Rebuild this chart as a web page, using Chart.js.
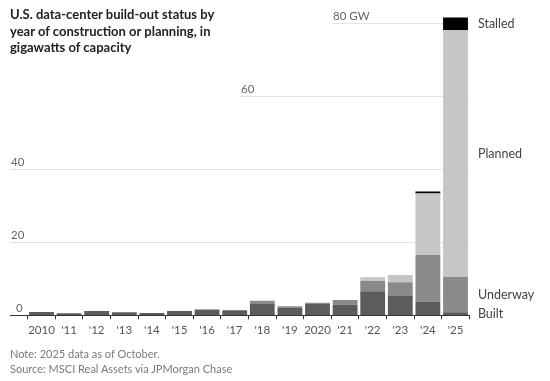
<!DOCTYPE html>
<html>
<head>
<meta charset="utf-8">
<script src="https://cdn.jsdelivr.net/npm/chart.js@4.4.1/dist/chart.umd.min.js"></script>
<style>
  html,body{margin:0;padding:0;background:#fff;}
  #wrap{position:relative;width:550px;height:381px;overflow:hidden;}
  canvas{position:absolute;left:0;top:0;}
  #title{position:absolute;left:10px;top:6px;font-family:Lato,"Noto Sans",sans-serif;font-weight:700;font-size:13px;line-height:16.7px;color:#222;}
  #foot{position:absolute;left:10px;top:347px;font-family:Lato,"Noto Sans",sans-serif;font-size:11px;line-height:14.7px;color:#7a7a7a;}
</style>
</head>
<body>
<div id="wrap">
  <canvas id="c" width="550" height="381"></canvas>
  <div id="title">U.S. data-center build-out status by<br>year of construction or planning, in<br>gigawatts of capacity</div>
  <div id="foot">Note: 2025 data as of October.<br>Source: MSCI Real Assets via JPMorgan Chase</div>
</div>
<script>
const years = ["2010","'11","'12","'13","'14","'15","'16","'17","'18","'19","2020","'21","'22","'23","'24","'25"];
const built    = [0.9, 0.55, 1.2, 0.8, 0.6, 1.2, 1.6, 1.4, 3.1, 2.1, 3.2, 2.9, 6.6, 5.3, 3.8, 0.8];
const underway = [0, 0, 0, 0, 0, 0, 0, 0, 0.9, 0.4, 0.2, 1.3, 2.8, 3.7, 12.7, 9.7];
const planned  = [0, 0, 0, 0, 0, 0, 0, 0, 0, 0, 0, 0, 1.0, 2.0, 16.8, 67.4];
const stalled  = [0, 0, 0, 0, 0, 0, 0, 0, 0, 0, 0, 0, 0, 0, 0.5, 3.5];
const yTickValues = [0, 20, 40, 60, 80];
const yTickLabels = ["0", "20", "40", "60", "80 GW"];
const yGridStartX = [10, 10, 10, 240, 332];
const seriesNames = ["Built", "Underway", "Planned", "Stalled"];

const FONT = 'Lato, "Noto Sans", sans-serif';

const overlay = {
  id: 'overlay',
  beforeDatasetsDraw(chart) {
    const ctx = chart.ctx, y = chart.scales.y, area = chart.chartArea;
    ctx.save();
    ctx.font = '11.5px ' + FONT;
    ctx.fillStyle = '#666';
    ctx.textBaseline = 'alphabetic';
    ctx.textAlign = 'left';
    yTickValues.forEach((v, i) => {
      const py = Math.round(y.getPixelForValue(v)) + 0.5;
      if (v !== 0) {
        ctx.strokeStyle = '#e3e3e3';
        ctx.lineWidth = 1;
        ctx.beginPath();
        ctx.moveTo(yGridStartX[i], py);
        ctx.lineTo(area.right, py);
        ctx.stroke();
      }
      const tx = v === 0 ? 16 : yGridStartX[i] + 1;
      ctx.fillText(yTickLabels[i], tx, py - 4);
    });
    ctx.restore();
  },
  afterDatasetsDraw(chart) {
    const ctx = chart.ctx, y = chart.scales.y, area = chart.chartArea;
    ctx.save();
    const py = Math.round(y.getPixelForValue(0)) + 0.5;
    ctx.strokeStyle = '#333';
    ctx.lineWidth = 1;
    ctx.beginPath();
    ctx.moveTo(10, py);
    ctx.lineTo(area.right, py);
    ctx.stroke();
    ctx.font = '12.5px ' + FONT;
    ctx.fillStyle = '#444';
    ctx.textBaseline = 'middle';
    ctx.textAlign = 'left';
    const last = years.length - 1;
    chart.data.datasets.forEach((ds, i) => {
      const el = chart.getDatasetMeta(i).data[last];
      const mid = (el.y + el.base) / 2;
      ctx.fillText(seriesNames[i], el.x + el.width / 2 + 10, mid);
    });
    ctx.restore();
  }
};

new Chart(document.getElementById('c'), {
  type: 'bar',
  data: {
    labels: years,
    datasets: [
      { label: seriesNames[0], data: built,    backgroundColor: '#5c5c5c' },
      { label: seriesNames[1], data: underway, backgroundColor: '#8a8a8a' },
      { label: seriesNames[2], data: planned,  backgroundColor: '#c6c6c6' },
      { label: seriesNames[3], data: stalled,  backgroundColor: '#000000' }
    ]
  },
  options: {
    responsive: false,
    animation: false,
    devicePixelRatio: 1,
    layout: { padding: { left: 27.7, right: 80.7, top: 7.9, bottom: 45.7 } },
    datasets: { bar: { categoryPercentage: 1, barPercentage: 0.9, borderWidth: 0 } },
    plugins: { legend: { display: false }, tooltip: { enabled: false } },
    scales: {
      x: {
        stacked: true,
        afterFit(scale) { scale.height = 20; },
        grid: { drawOnChartArea: false, drawTicks: true, tickLength: 4, color: '#333' },
        border: { display: false },
        ticks: { color: '#555', font: { family: FONT, size: 11.5 }, padding: 4, maxRotation: 0, autoSkip: false }
      },
      y: {
        stacked: true,
        display: false,
        min: 0,
        max: 84
      }
    }
  },
  plugins: [overlay]
});
</script>
</body>
</html>
